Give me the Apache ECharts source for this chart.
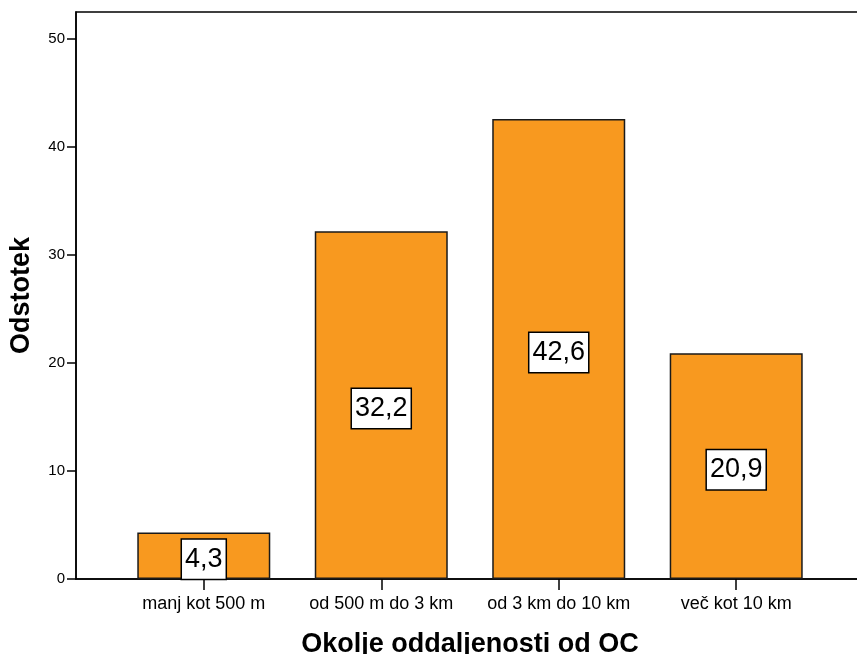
<!DOCTYPE html>
<html>
<head>
<meta charset="utf-8">
<script src="https://cdn.jsdelivr.net/npm/echarts@6/dist/echarts.min.js"></script>
<style>
  html, body { margin: 0; padding: 0; background: #fff; }
  #chart { width: 857px; height: 654px; }
</style>
</head>
<body>
<div id="chart"></div>
<script>
// Distance categories and their percentages
const categories = ['manj kot 500 m', 'od 500 m do 3 km', 'od 3 km do 10 km', 'več kot 10 km'];
const percentages = [4.3, 32.2, 42.6, 20.9];
const yTicks = [0, 10, 20, 30, 40, 50];

const positions = categories.map((_, i) => i);
const barData = percentages.map((v, i) => [i, v]);

const FONT = '"Liberation Sans", Arial, sans-serif';

const chart = echarts.init(document.getElementById('chart'), null, { renderer: 'canvas' });
chart.setOption({
  animation: false,
  backgroundColor: '#ffffff',
  grid: {
    left: 76, right: -7, top: 12, bottom: 75,
    outerBoundsMode: 'none',
    containLabel: false,
    show: true, borderColor: '#000', borderWidth: 1.5, backgroundColor: 'transparent'
  },
  xAxis: {
    type: 'value',
    min: -0.72, max: 3.72,
    splitLine: { show: false },
    axisLine: { show: true, onZero: false, lineStyle: { color: '#000', width: 1.5 } },
    axisTick: { show: true, customValues: positions, length: 11, inside: false, lineStyle: { color: '#000', width: 1.5 } },
    axisLabel: {
      customValues: positions,
      formatter: v => categories[Math.round(v)],
      margin: 16, fontSize: 18, color: '#000', fontFamily: FONT
    },
    name: 'Okolje oddaljenosti od OC',
    nameLocation: 'middle',
    nameGap: 52,
    nameTextStyle: { fontSize: 27, fontWeight: 'bold', color: '#000', fontFamily: FONT }
  },
  yAxis: {
    type: 'value',
    min: 0, max: 52.5,
    splitLine: { show: false },
    axisLine: { show: true, onZero: false, lineStyle: { color: '#000', width: 1.5 } },
    axisTick: { show: true, customValues: yTicks, length: 9, lineStyle: { color: '#000', width: 1.5 } },
    axisLabel: { customValues: yTicks, margin: 11, fontSize: 15, color: '#000', fontFamily: FONT },
    name: 'Odstotek',
    nameLocation: 'middle',
    nameGap: 41,
    nameTextStyle: { fontSize: 27, fontWeight: 'bold', color: '#000', fontFamily: FONT }
  },
  series: [{
    type: 'bar',
    data: barData,
    barWidth: 133,
    itemStyle: { color: '#F8991F', borderColor: '#1a1a1a', borderWidth: 1.5 },
    label: {
      show: true,
      position: 'inside',
      offset: [0, 3.5],
      formatter: p => String(p.value[1]).replace('.', ','),
      fontSize: 27,
      lineHeight: 28,
      color: '#000',
      fontFamily: FONT,
      backgroundColor: '#fff',
      borderColor: '#000',
      borderWidth: 1.5,
      padding: [6, 3, 5, 3]
    }
  }]
});
</script>
</body>
</html>
